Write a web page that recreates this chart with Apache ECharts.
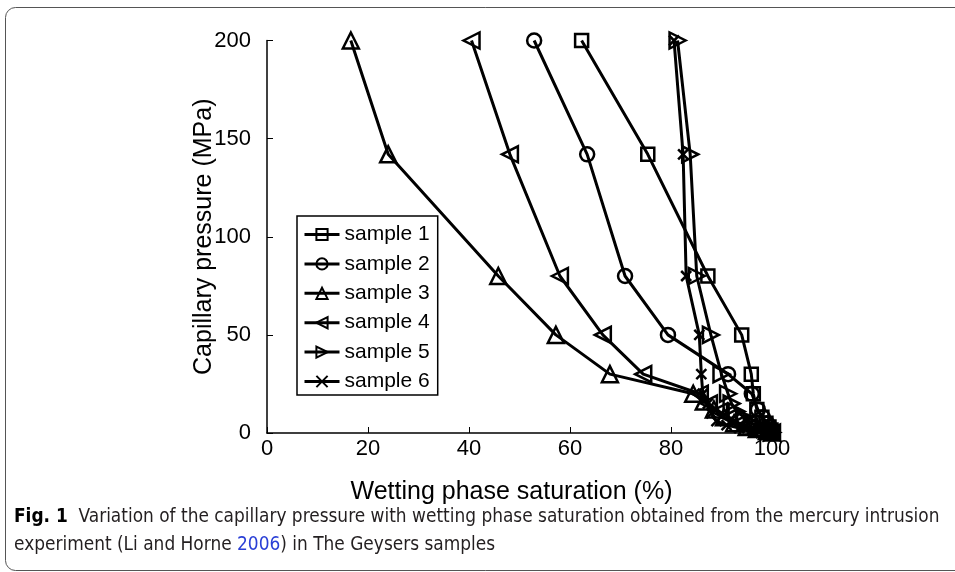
<!DOCTYPE html>
<html><head><meta charset="utf-8">
<script src="https://cdn.jsdelivr.net/npm/echarts@6/dist/echarts.min.js"></script>
<style>html,body{margin:0;padding:0;background:#fff;}#c{width:955px;height:572px;}</style>
</head><body><div id="c"></div>
<script>
// Data (x: wetting phase saturation %, y: capillary pressure MPa)
const seriesNames = ['sample 1','sample 2','sample 3','sample 4','sample 5','sample 6'];
const sample1 = [[62.3,200],[75.4,142],[87.3,80],[94.0,50],[95.9,30],[96.3,20],[97,12],[98,8],[98.8,5],[99.4,3],[99.8,1.5],[100,0.5]];
const sample2 = [[52.9,200],[63.4,142],[70.9,80],[79.4,50],[91.3,30],[96.0,20],[97.2,12],[98.2,8],[99,5],[99.5,3],[99.8,1.5],[100,0.5]];
const sample3 = [[16.6,200],[24.0,142],[45.8,80],[57.2,50],[67.9,30],[84.4,20],[86.5,16],[88.5,12],[90.5,8],[92.5,5],[95,3],[97,2],[99,1],[100,0.3]];
const sample4 = [[40.5,200],[48.1,142],[58.0,80],[66.5,50],[74.5,30],[85.7,20],[87.5,15],[89.5,11],[91.5,8],[93.5,5],[95.5,3],[97.5,2],[99,1],[100,0.3]];
const sample5 = [[81.3,200],[83.8,142],[85.1,80],[87.9,50],[90.0,30],[91.3,20],[92,15],[93,11],[94.5,8],[96,5],[97.5,3],[98.7,2],[99.5,1],[100,0.3]];
const sample6 = [[80.6,200],[82.4,142],[83.0,80],[85.6,50],[86.0,30],[86.3,20],[87.3,15],[88,10],[89,6],[91,4],[93.5,2.5],[96,1.5],[98.5,0.8],[100,0.2]];
const xTicks = [0,20,40,60,80,100];
const yTicks = [0,50,100,150,200];

const allData = [sample1,sample2,sample3,sample4,sample5,sample6];
const symbols = ['rect','circle','triangle','triangle','triangle','path://M0,0L10,10M10,0L0,10'];
const rotates = [0,0,0,90,-90,0];
const sizes = [13,14,16,16,16,10];
const FONT = "'Liberation Sans', Arial, sans-serif";
const CAPFONT = "'Liberation Sans Narrow','DejaVu Sans Condensed','Roboto Condensed',sans-serif";

const chart = echarts.init(document.getElementById('c'), null, {renderer:'canvas'});
const series = allData.map((d,i)=>({
  name: seriesNames[i], type:'line', data:d,
  symbol: symbols[i], symbolSize: sizes[i], symbolRotate: rotates[i],
  showAllSymbol: true,
  lineStyle:{color:'#000', width:3},
  itemStyle:{color:'none', borderColor:'#000', borderWidth:2.5},
  emphasis:{disabled:true},
  animation:false, z: 2
}));

chart.setOption({
  animation:false,
  backgroundColor:'#fff',
  grid:{left:267, right:183, top:40.5, bottom:139, containLabel:false},
  xAxis:{type:'value', min:0, max:100, interval:20,
    name:'Wetting phase saturation (%)', nameLocation:'middle', nameGap:47, nameMoveOverlap:false,
    nameTextStyle:{fontFamily:FONT, fontSize:25, color:'#000', padding:[0,16,0,0]},
    axisLine:{lineStyle:{color:'#000', width:1.5}},
    axisTick:{inside:true, length:6, lineStyle:{color:'#000'}},
    axisLabel:{fontFamily:FONT, fontSize:22, color:'#000', margin:5,
      formatter:v=>xTicks.includes(v)?String(v):''},
    splitLine:{show:false}},
  yAxis:{type:'value', min:0, max:200, interval:50,
    name:'Capillary pressure (MPa)', nameLocation:'middle', nameGap:50, nameMoveOverlap:false,
    nameTextStyle:{fontFamily:FONT, fontSize:25, color:'#000'},
    axisLine:{show:true, lineStyle:{color:'#000', width:1.5}},
    axisTick:{show:true, inside:true, length:6, lineStyle:{color:'#000'}},
    axisLabel:{fontFamily:FONT, fontSize:22, color:'#000', margin:16,
      formatter:v=>yTicks.includes(v)?String(v):''},
    splitLine:{show:false}},
  legend:{orient:'vertical', left:297, top:216, data:seriesNames,
    backgroundColor:'#fff', borderColor:'#000', borderWidth:1.5,
    padding:[8,8,3,6], itemWidth:35, itemHeight:14, itemGap:8.4,
    lineStyle:{width:3},
    textStyle:{fontFamily:FONT, fontSize:21, color:'#000'},
    selectedMode:false},
  graphic:[
    {type:'rect', shape:{x:5.5, y:7.5, width:1000, height:563, r:10}, style:{fill:'none', stroke:'#555', lineWidth:1}, silent:true},
    {type:'text', left:14, top:508, style:{
      text:'{b|Fig. 1}  Variation of the capillary pressure with wetting phase saturation obtained from the mercury intrusion',
      fontFamily:CAPFONT, fontSize:18.9, fill:'#231f20',
      rich:{b:{fontFamily:CAPFONT, fontSize:18.9, fontWeight:'bold', fill:'#000'}}}},
    {type:'text', left:14, top:536, style:{
      text:'experiment (Li and Horne {a|2006}) in The Geysers samples',
      fontFamily:CAPFONT, fontSize:18.9, fill:'#231f20',
      rich:{a:{fontFamily:CAPFONT, fontSize:18.9, fill:'#2a3fd6'}}}}
  ],
  series: series
});
</script></body></html>
